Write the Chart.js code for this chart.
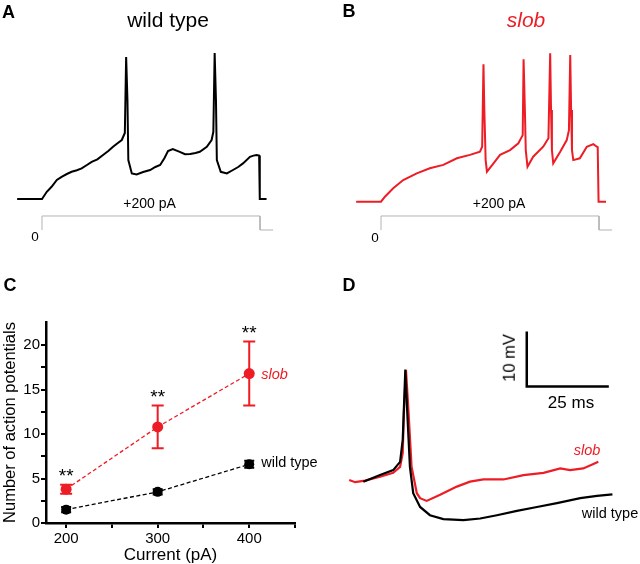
<!DOCTYPE html>
<html>
<head>
<meta charset="utf-8">
<script src="https://cdn.jsdelivr.net/npm/chart.js@4.4.1/dist/chart.umd.min.js"></script>
<style>
html, body { margin: 0; padding: 0; background: #fff; }
#fig { position: relative; width: 640px; height: 564px; overflow: hidden; font-family: "Liberation Sans", Arial, sans-serif; }
#fig canvas { position: absolute; }
.t { position: absolute; line-height: 1; white-space: nowrap; }
</style>
</head>
<body>
<div id="fig">
  <canvas id="cA" width="320" height="260" style="left:0;top:0"></canvas>
  <canvas id="cB" width="320" height="260" style="left:320px;top:0"></canvas>
  <canvas id="cC" width="320" height="284" style="left:0;top:280px"></canvas>
  <canvas id="cD" width="320" height="284" style="left:320px;top:280px"></canvas>
</div>
<script>
var RED = "#ee1c24";

// A - wild type, response to +200 pA step (time ms from step onset, Vm mV)
var wtTime = [-57, 0, 11, 22, 34, 45, 57, 68, 80, 91, 103, 114, 127, 140, 152, 163, 174, 183, 190, 193, 196, 198, 206, 217,
    232, 248, 260, 271, 281, 289, 300, 316, 328, 340, 352, 362, 378, 389, 393, 396, 399, 401, 410, 424,
    438, 450, 461, 477, 485, 492, 498, 499.5, 515];
var wtVm = [-70, -70, -66.4, -63.9, -60.5, -58.9, -57.5, -56.4, -55.6, -54.7, -53.0, -51.4, -50.2, -48.0, -46.0, -43.9, -42.0, -40.5, -37.0, 1.0, -20.5, -50.5, -57.2, -57.7,
    -56.5, -55.5, -54.0, -53.0, -49.5, -46.0, -45.0, -46.4, -47.6, -47.5, -47.0, -46.4, -43.9, -40.5, -36.4, 3.0, -20.5, -50.5, -56.4, -57.2,
    -55.5, -54.0, -52.2, -48.9, -48.3, -48.0, -48.3, -70, -70];

// B - slob, response to +200 pA step
var slobTime = [-57, 0, 9, 28, 51, 82, 112, 143, 174, 204, 227, 232, 235, 237, 240, 243, 258, 273, 296, 315, 325, 327, 330, 332,
    336, 349, 372, 384, 388, 390, 392, 395, 411, 426, 431, 434, 436, 438, 441, 456, 472, 487, 495, 497, 499, 516];
var slobVm = [-70, -70, -67.5, -63.3, -59.2, -55.8, -53.3, -51.6, -48.3, -46.6, -45.0, -42.5, -1.3, -24.2, -49.2, -55.0, -50.8, -46.6, -44.2, -40.8, -36.7, 1.2, -24.2, -44.2,
    -52.5, -47.5, -42.5, -38.3, 4.2, -24.2, -44.2, -50.8, -45.0, -39.2, -34.2, 3.3, -24.2, -44.2, -49.2, -48.3, -42.5, -41.2, -42.5, -42.7, -70, -70];

// current step (ms, pA), same protocol in A and B
var stepTime = [0, 0, 500, 500, 530];
var stepAmp = [0, 200, 200, 0, 0];

// C - number of action potentials vs injected current
var currents = [200, 300, 400];
var slobMean = [3.8, 10.8, 16.8];
var slobSem = [0.5, 2.4, 3.6];
var wtMean = [1.5, 3.5, 6.6];
var wtSem = [0.3, 0.3, 0.4];
var signif = ["**", "**", "**"];
var xTicks = [200, 250, 300, 350, 400, 450];
var yTicks = [0, 2.5, 5, 7.5, 10, 12.5, 15, 17.5, 20];

// D - single action potentials aligned at peak (ms, mV)
var dWtTime = [-13.0, -7.9, -3.9, -1.8, -1.0, -0.2, 0.4, 1.2, 2.2, 4.3, 7.3, 11.4, 17.5, 22.6, 27.7, 33.8, 39.9, 46.0, 53.1, 58.2, 62.9];
var dWtVm = [-60.3, -59.1, -58.2, -56.7, -52.7, -39.9, -47.9, -57.6, -62.4, -64.9, -66.4, -67.1, -67.3, -67.0, -66.4, -65.6, -64.9, -64.2, -63.3, -62.9, -62.6];
var dSlobTime = [-17.3, -15.5, -12.5, -7.9, -3.9, -1.8, -1.0, -0.6, 0, 0.8, 1.7, 3.3, 4.3, 6.3, 10.4, 15.5, 19.5, 23.6, 29.7, 35.8, 41.9, 47.0, 50.0, 54.0, 57.1, 58.6];
var dSlobVm = [-60.0, -60.4, -60.1, -59.4, -58.7, -57.6, -55.1, -47.3, -40.0, -47.9, -57.6, -62.4, -63.3, -63.8, -62.7, -61.2, -60.3, -59.9, -59.9, -59.1, -58.7, -57.9, -58.2, -57.9, -57.1, -56.7];

// scale bar in D
var barMs = 25, barMv = 10, barT0 = 36.8, barV0 = -43;

function pts(xs, ys) {
    var out = [];
    for (var i = 0; i < xs.length; i++) out.push({ x: xs[i], y: ys[i] });
    return out;
}

function hidden(min, max) {
    return { type: "linear", display: false, min: min, max: max };
}

function traceChart(id, time, vm, color, xr, yr) {
    new Chart(document.getElementById(id), {
        type: "scatter",
        data: {
            datasets: [{
                data: pts(time, vm),
                showLine: true,
                borderColor: color,
                borderWidth: 2,
                pointRadius: 0,
                yAxisID: "y"
            }, {
                data: pts(stepTime, stepAmp),
                showLine: true,
                borderColor: "#b4b4b4",
                borderWidth: 1,
                pointRadius: 0,
                yAxisID: "y2"
            }]
        },
        options: {
            responsive: false,
            animation: false,
            devicePixelRatio: 1,
            layout: { padding: 0 },
            scales: {
                x: hidden(xr[0], xr[1]),
                y: hidden(yr[0], yr[1]),
                y2: hidden(-428.6, 3285.7)
            },
            plugins: { legend: { display: false }, tooltip: { enabled: false } }
        }
    });
}

traceChart("cA", wtTime, wtVm, "#000", [-96.3, 637.6], [-100.5, 29.5]);
traceChart("cB", slobTime, slobVm, RED, [-139.9, 594.0], [-99.15, 30.85]);

// error bars, significance stars and series labels for C
var errorBars = {
    id: "errorBars",
    beforeDatasetsDraw: function (chart) {
        var ctx = chart.ctx, sx = chart.scales.x, sy = chart.scales.y;
        [[slobMean, slobSem, RED, 6], [wtMean, wtSem, "#000", 5]].forEach(function (s) {
            ctx.save();
            ctx.strokeStyle = s[2];
            ctx.lineWidth = 2;
            for (var i = 0; i < currents.length; i++) {
                var px = sx.getPixelForValue(currents[i]);
                var top = sy.getPixelForValue(s[0][i] + s[1][i]);
                var bot = sy.getPixelForValue(s[0][i] - s[1][i]);
                ctx.beginPath();
                ctx.moveTo(px, top); ctx.lineTo(px, bot);
                ctx.moveTo(px - s[3], top); ctx.lineTo(px + s[3], top);
                ctx.moveTo(px - s[3], bot); ctx.lineTo(px + s[3], bot);
                ctx.stroke();
            }
            ctx.restore();
        });
    },
    afterDatasetsDraw: function (chart) {
        var ctx = chart.ctx, sx = chart.scales.x, sy = chart.scales.y;
        ctx.save();
        ctx.textAlign = "center";
        ctx.textBaseline = "alphabetic";
        ctx.fillStyle = "#000";
        ctx.font = '19px "Liberation Sans", Arial, sans-serif';
        for (var i = 0; i < currents.length; i++) {
            var px = sx.getPixelForValue(currents[i]);
            var top = sy.getPixelForValue(slobMean[i] + slobSem[i]);
            ctx.fillText(signif[i], px, top - 3);
        }
        var last = currents.length - 1;
        var lx = sx.getPixelForValue(currents[last]) + 12;
        ctx.textAlign = "left";
        ctx.font = 'italic 14.5px "Liberation Sans", Arial, sans-serif';
        ctx.fillStyle = RED;
        ctx.fillText("slob", lx, sy.getPixelForValue(slobMean[last]) + 5);
        ctx.font = '14.5px "Liberation Sans", Arial, sans-serif';
        ctx.fillStyle = "#000";
        ctx.fillText("wild type", lx, sy.getPixelForValue(wtMean[last]) + 3);
        ctx.restore();
    }
};

function fixedTicks(list) {
    return function (s) {
        s.ticks = list.map(function (v) { return { value: v }; });
    };
}

var tickFont = { family: '"Liberation Sans", Arial, sans-serif', size: 15 };
new Chart(document.getElementById("cC"), {
    type: "scatter",
    data: {
        datasets: [{
            data: pts(currents, slobMean),
            showLine: true,
            borderColor: RED,
            borderWidth: 1.3,
            borderDash: [4, 2.5],
            pointRadius: 5.5,
            pointBackgroundColor: RED,
            pointBorderColor: RED,
            pointBorderWidth: 0
        }, {
            data: pts(currents, wtMean),
            showLine: true,
            borderColor: "#000",
            borderWidth: 1.3,
            borderDash: [4, 2.5],
            pointRadius: 5,
            pointBackgroundColor: "#000",
            pointBorderColor: "#000",
            pointBorderWidth: 0
        }]
    },
    plugins: [errorBars],
    options: {
        responsive: false,
        animation: false,
        devicePixelRatio: 1,
        layout: { padding: { top: 42, right: 25, left: 0, bottom: 0 } },
        scales: {
            x: {
                type: "linear",
                min: 178,
                max: 450,
                afterFit: function (s) { s.height = 41; },
                afterBuildTicks: fixedTicks(xTicks),
                border: { display: true, color: "#000", width: 2.5 },
                grid: { drawOnChartArea: false, drawTicks: true, tickLength: 5, color: "#000", lineWidth: 2 },
                ticks: {
                    padding: 2,
                    color: "#000",
                    font: tickFont,
                    maxRotation: 0,
                    autoSkip: false,
                    callback: function (v) { return v % 100 === 0 ? v : ""; }
                },
                title: {
                    display: true,
                    text: "Current (pA)",
                    color: "#000",
                    font: { family: tickFont.family, size: 17, lineHeight: 1 },
                    padding: { top: 0, bottom: 0 }
                }
            },
            y: {
                type: "linear",
                min: 0,
                max: 22.6,
                afterFit: function (s) { s.width = 46; },
                afterBuildTicks: fixedTicks(yTicks),
                border: { display: true, color: "#000", width: 2.5 },
                grid: { drawOnChartArea: false, drawTicks: true, tickLength: 5, color: "#000", lineWidth: 2 },
                ticks: {
                    padding: 1,
                    color: "#000",
                    font: tickFont,
                    autoSkip: false,
                    callback: function (v) { return v % 5 === 0 ? v : ""; }
                },
                title: {
                    display: true,
                    text: "Number of action potentials",
                    color: "#000",
                    font: { family: tickFont.family, size: 16.5, lineHeight: 1 },
                    padding: { top: 2, bottom: 0 }
                }
            }
        },
        plugins: { legend: { display: false }, tooltip: { enabled: false } }
    }
});

// D - overlay of single spikes with scale bar
new Chart(document.getElementById("cD"), {
    type: "scatter",
    data: {
        datasets: [{
            data: pts(dWtTime, dWtVm),
            showLine: true,
            borderColor: "#000",
            borderWidth: 2.2,
            pointRadius: 0
        }, {
            data: pts(dSlobTime, dSlobVm),
            showLine: true,
            borderColor: RED,
            borderWidth: 2.2,
            pointRadius: 0
        }, {
            data: pts([barT0, barT0, barT0 + barMs], [barV0 + barMv, barV0, barV0]),
            showLine: true,
            borderColor: "#000",
            borderWidth: 2.5,
            pointRadius: 0
        }]
    },
    options: {
        responsive: false,
        animation: false,
        devicePixelRatio: 1,
        layout: { padding: 0 },
        scales: {
            x: hidden(-26.2, 71.3),
            y: hidden(-75.27, -23.64)
        },
        plugins: { legend: { display: false }, tooltip: { enabled: false } }
    }
});

// panel letters and annotations
var labels = [
    ["A", 8.5, 18, 18, "bold", "#000", 0],
    ["B", 349, 17, 18, "bold", "#000", 0],
    ["C", 10, 291, 18, "bold", "#000", 0],
    ["D", 349, 291, 18, "bold", "#000", 0],
    ["wild type", 168, 26.7, 21, "", "#000", 0],
    ["slob", 526, 26.7, 21, "italic", RED, 0],
    ["+200 pA", 149.5, 208, 14, "", "#000", 0],
    ["+200 pA", 499, 208, 14, "", "#000", 0],
    ["0", 35, 241.5, 13.5, "", "#000", 0],
    ["0", 375, 242, 13.5, "", "#000", 0],
    ["25 ms", 571, 408, 17, "", "#000", 0],
    ["slob", 587, 455, 14.5, "italic", RED, 0],
    ["wild type", 610, 518, 14.5, "", "#000", 0],
    ["10 mV", 509, 357.5, 16.5, "", "#000", -90]
];
var fig = document.getElementById("fig");
labels.forEach(function (l) {
    var d = document.createElement("div");
    d.className = "t";
    d.textContent = l[0];
    d.style.fontSize = l[3] + "px";
    d.style.color = l[5];
    if (l[4] === "bold") d.style.fontWeight = "bold";
    if (l[4] === "italic") d.style.fontStyle = "italic";
    d.style.left = l[1] + "px";
    if (l[6]) {
        d.style.top = l[2] + "px";
        d.style.transform = "translate(-50%, -50%) rotate(" + l[6] + "deg)";
    } else {
        d.style.top = (l[2] - 0.8465 * l[3]) + "px";
        d.style.transform = "translateX(-50%)";
    }
    fig.appendChild(d);
});
</script>
</body>
</html>
